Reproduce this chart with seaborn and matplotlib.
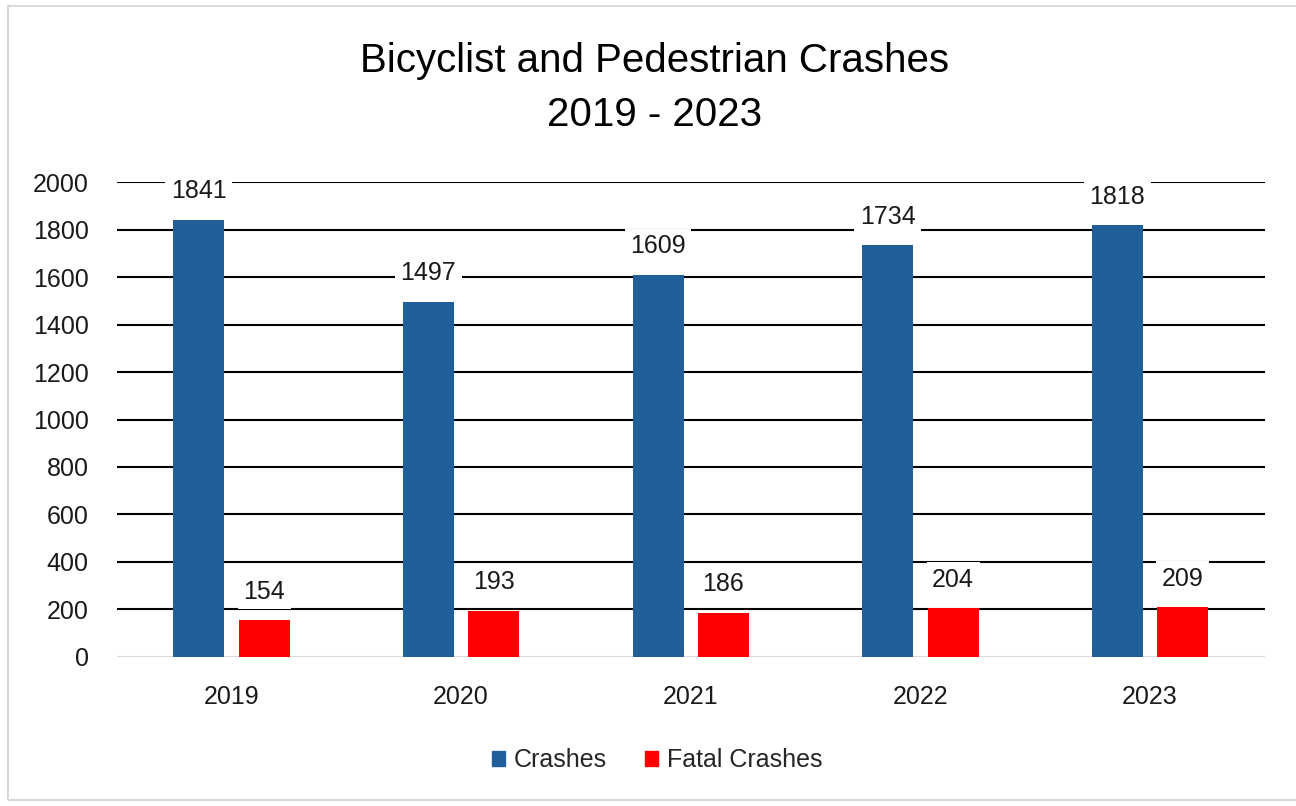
import matplotlib
matplotlib.use("Agg")
import matplotlib.pyplot as plt
import matplotlib.patches as mpatches
import pandas as pd
import seaborn as sns

years = ["2019", "2020", "2021", "2022", "2023"]
crashes = [1841, 1497, 1609, 1734, 1818]
fatal_crashes = [154, 193, 186, 204, 209]
series_names = ["Crashes", "Fatal Crashes"]
y_ticks = [0, 200, 400, 600, 800, 1000, 1200, 1400, 1600, 1800, 2000]

BLUE = "#215F9A"
RED = "#FF0000"

sns.set_theme(style="white")
plt.rcParams["font.family"] = ["Liberation Sans", "DejaVu Sans"]

df = pd.DataFrame({
    "Year": years * 2,
    "Count": crashes + fatal_crashes,
    "Series": [series_names[0]] * len(years) + [series_names[1]] * len(years),
})

fig = plt.figure(figsize=(12.96, 8.06), dpi=100)
ax = fig.add_axes([0.090, 0.185, 0.886, 0.589])

sns.barplot(data=df, x="Year", y="Count", hue="Series", palette=[BLUE, RED],
            width=0.57, gap=0.22, saturation=1, linewidth=0,
            ax=ax, legend=False, zorder=3)

# gridlines: black, zero line light grey
ax.set_ylim(0, 2000)
ax.set_xlim(-0.5, 4.5)
ax.set_yticks(y_ticks)
for v in y_ticks[1:]:
    ax.axhline(v, color="black", lw=1.5, zorder=1)
ax.axhline(0, color="#D9D9D9", lw=1.5, zorder=2)

for c in ax.containers:
    labels = ax.bar_label(c, padding=12, fontsize=18, color="#1a1a1a", zorder=4)
    for t in labels:
        t.set_bbox(dict(facecolor="white", edgecolor="none", pad=4))

sns.despine(ax=ax, left=True, bottom=True)
ax.set_xlabel("")
ax.set_ylabel("")
ax.tick_params(axis="y", labelsize=18, length=0, pad=20, colors="#1a1a1a")
ax.tick_params(axis="x", labelsize=18, length=0, pad=20, colors="#1a1a1a")

fig.text(0.505, 0.924, "Bicyclist and Pedestrian Crashes", ha="center", va="center",
         fontsize=29, color="black")
fig.text(0.505, 0.857, "2019 - 2023", ha="center", va="center",
         fontsize=29, color="black")

handles = [mpatches.Patch(color=BLUE, label=series_names[0]),
           mpatches.Patch(color=RED, label=series_names[1])]
fig.legend(handles=handles, loc="center", bbox_to_anchor=(0.507, 0.057), ncol=2,
           frameon=False, fontsize=18, handlelength=0.55, handleheight=0.55,
           handletextpad=0.35, columnspacing=1.5)

# light grey frame around the chart area
fig.patches.append(mpatches.Rectangle((0.006, 0.007), 1.2, 0.986, transform=fig.transFigure,
                                      fill=False, edgecolor="#D9D9D9", lw=1.5))

fig.savefig("out.png", dpi=100)
